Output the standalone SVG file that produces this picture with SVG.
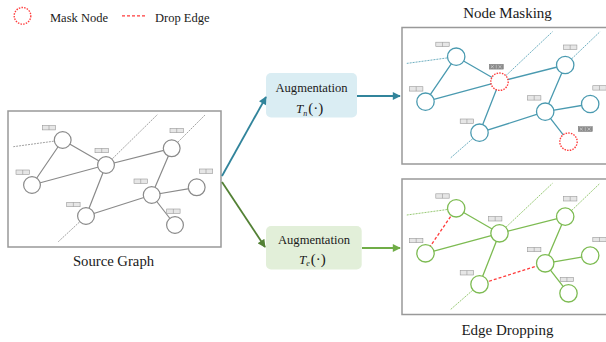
<svg xmlns="http://www.w3.org/2000/svg" width="606" height="342" viewBox="0 0 606 342">
<defs>
<style>
text{font-family:"Liberation Serif","Times New Roman",serif;fill:#1a1a1a}
.frame{fill:#fff;stroke:#999;stroke-width:1.5}
.lbl{fill:#e6e6e6;stroke:#999;stroke-width:0.6}
.mlbl{fill:#8c8c8c;stroke:#777;stroke-width:0.5}
.src .e{stroke:#8a8a8a;stroke-width:1.2;fill:none}
.src .x{stroke:#8a8a8a;stroke-width:0.8;stroke-dasharray:2 1;fill:none}
.src .n{fill:#fff;stroke:#8a8a8a;stroke-width:1.2}
.nm .e{stroke:#4a9ab0;stroke-width:1.3;fill:none}
.nm .x{stroke:#4a9ab0;stroke-width:0.8;stroke-dasharray:2 1;fill:none}
.nm .n{fill:#fff;stroke:#4a9ab0;stroke-width:1.3}
.ed .e{stroke:#7dbb52;stroke-width:1.3;fill:none}
.ed .x{stroke:#7dbb52;stroke-width:0.8;stroke-dasharray:2 1;fill:none}
.ed .n{fill:#fff;stroke:#7dbb52;stroke-width:1.3}
.mask{fill:#fff;stroke:#ff3b3b;stroke-width:1.4;stroke-dasharray:1.5 1.2}
.drop{stroke:#ff3b3b;stroke-width:1.3;stroke-dasharray:3 2;fill:none}
</style>
<marker id="ab" viewBox="0 0 10 10" refX="9" refY="5" markerWidth="9" markerHeight="8" markerUnits="userSpaceOnUse" orient="auto"><path d="M0,0L10,5L0,10z" fill="#31849b"/></marker>
<marker id="agd" viewBox="0 0 10 10" refX="9" refY="5" markerWidth="9" markerHeight="8" markerUnits="userSpaceOnUse" orient="auto"><path d="M0,0L10,5L0,10z" fill="#538135"/></marker>
<marker id="agl" viewBox="0 0 10 10" refX="9" refY="5" markerWidth="9" markerHeight="8" markerUnits="userSpaceOnUse" orient="auto"><path d="M0,0L10,5L0,10z" fill="#70ad47"/></marker>
<g id="lab"><rect class="lbl" x="0" y="0" width="13.4" height="4.4"/><line x1="6.7" y1="0" x2="6.7" y2="4.4" stroke="#999" stroke-width="0.6"/></g>
<g id="mlab"><rect class="mlbl" x="0" y="0" width="14" height="4.8"/><path d="M1.5,1l3,2.8M4.5,1l-3,2.8M9.2,1l3,2.8M12.2,1l-3,2.8" stroke="#ddd" stroke-width="0.6"/><line x1="7" y1="0.5" x2="7" y2="4.3" stroke="#ddd" stroke-width="0.5"/></g>
</defs>
<rect width="606" height="342" fill="#fff"/>

<!-- legend -->
<g id="legend">
<circle class="mask" cx="22.5" cy="15.8" r="8.3"/>
<text x="50" y="22" font-size="12.5">Mask Node</text>
<line class="drop" x1="122" y1="15.8" x2="146" y2="15.8"/>
<text x="155" y="22" font-size="12.5">Drop Edge</text>
</g>

<!-- Source graph -->
<g id="source-graph" class="src">
<rect class="frame" x="8" y="111" width="213" height="136"/>
<g id="src-edges">
<path class="x" d="M62.7,140L13.3,146.7M106,165L157.7,114.3M171.7,148.3L205,115M86,216L58.3,241.7"/>
<path class="e" d="M62.7,140L106,165M62.7,140L32,185M32,185L106,165M106,165L171.7,148.3M106,165L86,216M171.7,148.3L151.7,195M151.7,195L196.7,187.3M151.7,195L175,225M86,216L151.7,195"/>
</g>
<g id="src-A"><circle class="n" cx="62.7" cy="140" r="8.4"/><use href="#lab" x="42.3" y="125.5"/></g>
<g id="src-B"><circle class="n" cx="106" cy="165" r="8.4"/><use href="#lab" x="95" y="148.3"/></g>
<g id="src-C"><circle class="n" cx="171.7" cy="148.3" r="8.4"/><use href="#lab" x="170" y="128.3"/></g>
<g id="src-D"><circle class="n" cx="32" cy="185" r="8.4"/><use href="#lab" x="16" y="170"/></g>
<g id="src-E"><circle class="n" cx="151.7" cy="195" r="8.4"/><use href="#lab" x="134" y="179"/></g>
<g id="src-F"><circle class="n" cx="196.7" cy="187.3" r="8.4"/><use href="#lab" x="199.3" y="169"/></g>
<g id="src-G"><circle class="n" cx="86" cy="216" r="8.4"/><use href="#lab" x="66.7" y="202.3"/></g>
<g id="src-H"><circle class="n" cx="175" cy="225" r="8.4"/><use href="#lab" x="166.7" y="209"/></g>
</g>
<text x="113.5" y="266" font-size="14.7" text-anchor="middle">Source Graph</text>

<!-- Augmentation boxes -->
<g id="aug-n">
<rect x="266" y="73" width="91" height="44.5" rx="5" fill="#daedf3"/>
<text x="311.5" y="92.3" font-size="12.6" text-anchor="middle">Augmentation</text>
<text x="296" y="113" font-size="13"><tspan font-style="italic">T</tspan><tspan font-size="8" font-style="italic" dy="2.5">n</tspan><tspan dy="-2.5" dx="1" font-size="15">(·)</tspan></text>
</g>
<g id="aug-e">
<rect x="266" y="226" width="95.7" height="43.5" rx="5" fill="#e2efd9"/>
<text x="314" y="244.3" font-size="12.6" text-anchor="middle">Augmentation</text>
<text x="299" y="263.5" font-size="13"><tspan font-style="italic">T</tspan><tspan font-size="8" font-style="italic" dy="2.5">e</tspan><tspan dy="-2.5" dx="1" font-size="15">(·)</tspan></text>
</g>

<!-- connectors -->
<g id="connectors" fill="none" stroke-width="1.8">
<line x1="222" y1="176" x2="266" y2="97" stroke="#31849b" marker-end="url(#ab)"/>
<line x1="222" y1="182" x2="265" y2="247" stroke="#538135" marker-end="url(#agd)"/>
<line x1="357" y1="96" x2="400" y2="96" stroke="#31849b" marker-end="url(#ab)"/>
<line x1="362" y1="248" x2="400" y2="248" stroke="#70ad47" marker-end="url(#agl)"/>
</g>

<!-- Node masking -->
<text x="507.5" y="18" font-size="15" text-anchor="middle">Node Masking</text>
<rect class="frame" x="402" y="27.5" width="215" height="136.5"/>
<g id="node-masking" class="nm" transform="translate(393.5,-83.3)">
<g id="nm-edges">
<path class="x" d="M62.7,140L13.3,146.7M106,165L159,115M171.7,148.3L206.5,115M86,216L56.5,241.7"/>
<path class="e" d="M62.7,140L106,165M62.7,140L32,185M32,185L106,165M106,165L171.7,148.3M106,165L86,216M171.7,148.3L151.7,195M151.7,195L196.7,187.3M151.7,195L175,225M86,216L151.7,195"/>
</g>
<g id="nm-A"><circle class="n" cx="62.7" cy="140" r="8.7"/><use href="#lab" x="42.3" y="125.5"/></g>
<g id="nm-B"><circle class="mask" cx="106" cy="165" r="8.7"/><use href="#mlab" x="95.8" y="147.6"/></g>
<g id="nm-C"><circle class="n" cx="171.7" cy="148.3" r="8.7"/><use href="#lab" x="170" y="128.3"/></g>
<g id="nm-D"><circle class="n" cx="32" cy="185" r="8.7"/><use href="#lab" x="16" y="170"/></g>
<g id="nm-E"><circle class="n" cx="151.7" cy="195" r="8.7"/><use href="#lab" x="134" y="179"/></g>
<g id="nm-F"><circle class="n" cx="196.7" cy="187.3" r="8.7"/><use href="#lab" x="199.3" y="169"/></g>
<g id="nm-G"><circle class="n" cx="86" cy="216" r="8.7"/><use href="#lab" x="66.7" y="202.3"/></g>
<g id="nm-H"><circle class="mask" cx="175" cy="225" r="8.7"/><use href="#mlab" x="184.8" y="210"/></g>
</g>

<!-- Edge dropping -->
<rect class="frame" x="402" y="179" width="215" height="135.5"/>
<g id="edge-dropping" class="ed" transform="translate(393.5,68.3)">
<g id="ed-edges">
<path class="x" d="M62.7,140L13.3,146.7M106,165L159,115M171.7,148.3L206.5,115M86,216L56.5,241.7"/>
<path class="e" d="M62.7,140L106,165M32,185L106,165M106,165L171.7,148.3M106,165L86,216M171.7,148.3L151.7,195M151.7,195L196.7,187.3M151.7,195L175,225"/>
<path class="drop" d="M62.7,140L32,185M86,216L151.7,195"/>
</g>
<g id="ed-A"><circle class="n" cx="62.7" cy="140" r="8.7"/><use href="#lab" x="42.3" y="125.5"/></g>
<g id="ed-B"><circle class="n" cx="106" cy="165" r="8.7"/><use href="#lab" x="95" y="148.3"/></g>
<g id="ed-C"><circle class="n" cx="171.7" cy="148.3" r="8.7"/><use href="#lab" x="170" y="128.3"/></g>
<g id="ed-D"><circle class="n" cx="32" cy="185" r="8.7"/><use href="#lab" x="16" y="170"/></g>
<g id="ed-E"><circle class="n" cx="151.7" cy="195" r="8.7"/><use href="#lab" x="134" y="179"/></g>
<g id="ed-F"><circle class="n" cx="196.7" cy="187.3" r="8.7"/><use href="#lab" x="199.3" y="169"/></g>
<g id="ed-G"><circle class="n" cx="86" cy="216" r="8.7"/><use href="#lab" x="66.7" y="202.3"/></g>
<g id="ed-H"><circle class="n" cx="175" cy="225" r="8.7"/><use href="#lab" x="166.7" y="209"/></g>
</g>
<text x="507.5" y="335" font-size="15" text-anchor="middle">Edge Dropping</text>
</svg>
